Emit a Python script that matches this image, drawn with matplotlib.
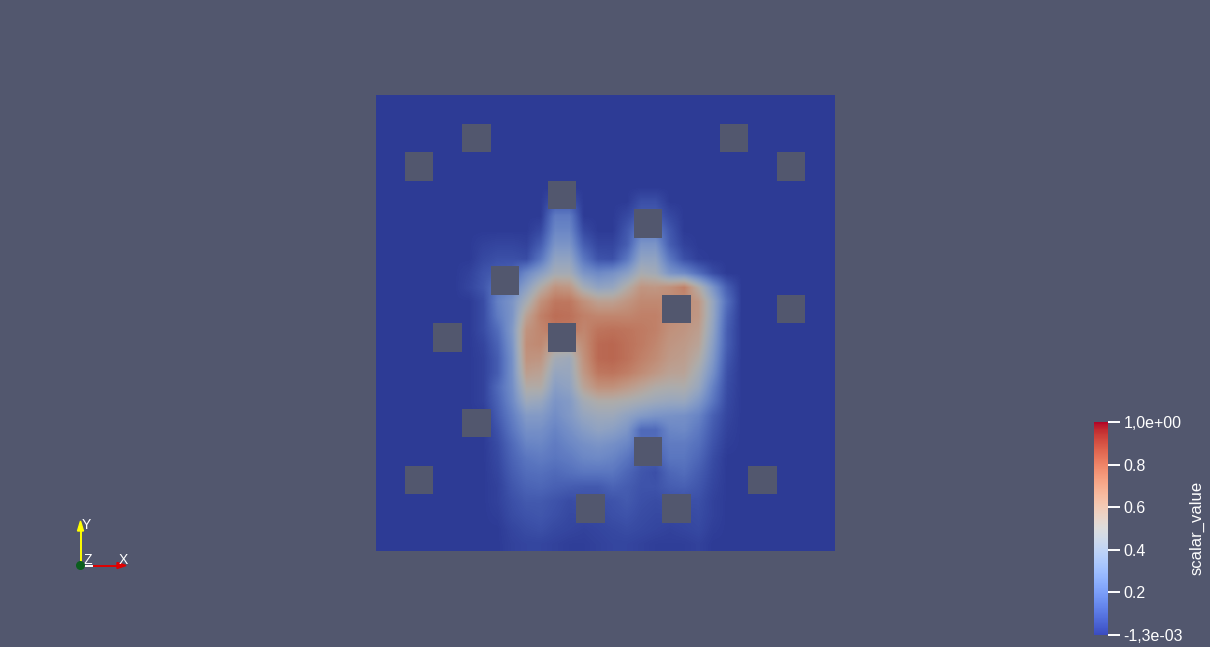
"""Scalar field on a 16x16 grid with square holes, ParaView-like render."""
import numpy as np
import matplotlib
matplotlib.use("Agg")
import matplotlib.pyplot as plt
from matplotlib.colors import ListedColormap, Normalize
from matplotlib.patches import Rectangle, Circle, Polygon
from matplotlib.cm import ScalarMappable

# ---- data -----------------------------------------------------------------
GRID_N = 16                      # cells per side
FIELD_RES = 32                   # samples per side (half-cell)
ROW0, COL0 = 6, 6                # first sampled row / column with nonzero values
# samples for rows 6..31, columns 6..25 (everything else is 0)
field_rows = [
    [0, 0, 0, 0, 0, 0, 0, 0, 0, 0, 0, 0, 0, 0, 0, 0, 0, 0, 0, 0],
    [0, 0, 0, 0, 0, 0, .08, .08, 0, 0, 0, 0, .06, .06, 0, 0, 0, 0, 0, 0],
    [0, 0, 0, 0, 0, 0, .2, .2, 0, 0, 0, .04, .1, .1, .04, 0, 0, 0, 0, 0],
    [0, 0, 0, 0, 0, .04, .24, .24, .04, 0, 0, .08, .2, .2, .08, 0, 0, 0, 0, 0],
    [0, .02, .03, .03, .02, .1, .3, .3, .1, .03, .03, .1, .3, .3, .1, .02, 0, 0, 0, 0],
    [0, .04, .06, .06, .05, .18, .38, .38, .18, .07, .06, .18, .38, .38, .18, .06, .01, 0, 0, 0],
    [.02, .07, .1, .12, .25, .35, .46, .46, .3, .25, .28, .35, .48, .45, .3, .25, .15, .05, 0, 0],
    [.03, .08, .18, .22, .36, .52, .65, .63, .46, .38, .4, .52, .64, .63, .66, .72, .52, .3, .1, 0],
    [0, .05, .22, .3, .47, .66, .75, .75, .66, .59, .59, .64, .69, .69, .68, .68, .63, .4, .15, 0],
    [0, .05, .2, .3, .58, .72, .78, .77, .72, .7, .7, .7, .72, .72, .68, .66, .63, .4, .12, 0],
    [0, .05, .15, .32, .65, .7, .75, .75, .7, .76, .77, .76, .74, .72, .66, .64, .6, .38, .1, 0],
    [0, .03, .12, .3, .67, .69, .58, .58, .68, .79, .8, .77, .74, .7, .64, .62, .57, .35, .1, 0],
    [0, .02, .1, .28, .65, .64, .46, .43, .66, .79, .8, .77, .72, .68, .62, .6, .52, .32, .08, 0],
    [0, .02, .1, .28, .6, .58, .4, .41, .63, .75, .76, .73, .68, .63, .58, .57, .46, .28, .06, 0],
    [0, .02, .14, .27, .52, .52, .35, .38, .57, .66, .66, .62, .57, .52, .5, .5, .41, .22, .05, 0],
    [0, .02, .12, .25, .43, .41, .3, .33, .46, .51, .51, .49, .46, .43, .41, .41, .32, .18, .04, 0],
    [0, 0, .1, .21, .33, .33, .27, .32, .4, .43, .43, .38, .33, .3, .29, .28, .23, .11, .03, 0],
    [0, 0, .07, .18, .28, .28, .23, .28, .34, .38, .36, .31, .14, .14, .24, .25, .19, .09, .02, 0],
    [0, 0, .05, .14, .23, .24, .2, .24, .28, .3, .28, .24, .15, .15, .2, .2, .16, .07, .01, 0],
    [0, 0, .04, .12, .18, .2, .18, .2, .24, .25, .23, .18, .1, .1, .18, .18, .13, .05, 0, 0],
    [0, 0, .03, .1, .15, .16, .14, .16, .18, .18, .18, .13, .08, .06, .13, .15, .1, .04, 0, 0],
    [0, 0, .02, .08, .12, .13, .11, .1, .09, .09, .12, .1, .07, .07, .1, .11, .08, .03, 0, 0],
    [0, 0, .02, .06, .09, .09, .07, .05, .06, .06, .07, .09, .06, .05, .06, .06, .06, .02, 0, 0],
    [0, 0, .01, .05, .07, .08, .06, .04, .04, .04, .06, .07, .05, .04, .04, .04, .05, .02, 0, 0],
    [0, 0, 0, .03, .05, .06, .04, .03, .02, .03, .04, .05, .04, .03, .02, .03, .04, .01, 0, 0],
    [0, 0, 0, .02, .03, .03, .02, .01, .01, .02, .03, .03, .02, .01, .01, .01, .02, 0, 0, 0],
]
# square holes (column, row from top)
hole_cols = [3, 1, 12, 14, 6, 9, 4, 10, 14, 2, 6, 3, 9, 1, 13, 7, 10]
hole_rows = [1, 2, 1, 2, 3, 4, 6, 7, 7, 8, 8, 11, 12, 13, 13, 14, 14]

vmin, vmax = -0.0013, 1.0
cbar_ticks = [1.0, 0.8, 0.6, 0.4, 0.2, -0.0013]
cbar_labels = ["1,0e+00", "0.8", "0.6", "0.4", "0.2", "-1,3e-03"]
cbar_title = "scalar_value"

# ---- style ----------------------------------------------------------------
BG = "#52576e"
W, H = 1210, 647
plt.rcParams["font.family"] = ["Liberation Sans", "DejaVu Sans"]

field = np.zeros((FIELD_RES, FIELD_RES))
rows = np.array(field_rows, dtype=float)
field[ROW0:ROW0 + rows.shape[0], COL0:COL0 + rows.shape[1]] = rows

base = plt.get_cmap("coolwarm")
shaded = ListedColormap(base(np.linspace(0, 1, 256))[:, :3] * 0.78)
norm = Normalize(vmin, vmax)

fig = plt.figure(figsize=(W / 100, H / 100), dpi=100, facecolor=BG)

# field
ax = fig.add_axes([376 / W, (H - 551) / H, 458 / W, 456 / H])
ax.imshow(field, extent=(0, GRID_N, GRID_N, 0), cmap=shaded, norm=norm,
          interpolation="bilinear", aspect="auto")
for c, r in zip(hole_cols, hole_rows):
    ax.add_patch(Rectangle((c, r), 1, 1, facecolor=BG, edgecolor="none"))
ax.set_xlim(0, GRID_N)
ax.set_ylim(GRID_N, 0)
ax.axis("off")

# colour bar
cax = fig.add_axes([1094 / W, (H - 635) / H, 14 / W, 213 / H])
cb = fig.colorbar(ScalarMappable(norm=norm, cmap=base), cax=cax)
cb.outline.set_visible(False)
cb.set_ticks(cbar_ticks, labels=cbar_labels)
cax.tick_params(colors="white", labelcolor="white", direction="out",
                length=8.5, width=1.4, pad=2.5, labelsize=11.5)
cax.yaxis.set_tick_params(which="minor", length=0)
fig.text(1197 / W, 1 - 528 / H, cbar_title, rotation=90, color="white",
         fontsize=12, ha="center", va="center")

# orientation triad (pixel coordinates)
ov = fig.add_axes([0, 0, 1, 1], facecolor="none")
ov.set_xlim(0, W)
ov.set_ylim(H, 0)
ov.axis("off")
ox, oy = 80.5, 565.5
ov.plot([ox, ox], [oy, 530], color="#ffff00", lw=1.4)
ov.add_patch(Polygon([[ox - 3, 531], [ox + 3, 531], [ox, 521]], color="#ffff00"))
ov.plot([ox, 118], [oy, oy], color="#e00000", lw=1.4)
ov.add_patch(Polygon([[117, oy - 3], [117, oy + 3], [126, oy]], color="#e00000"))
ov.plot([84, 92], [oy, oy], color="white", lw=1.4)
ov.add_patch(Circle((ox, oy), 3.8, color="#0b5e1e", zorder=5))
ov.text(82, 525, "Y", color="white", fontsize=10, ha="left", va="center")
ov.text(83, 559.5, "Z", color="white", fontsize=10, ha="left", va="center")
ov.text(119, 560.5, "X", color="white", fontsize=10, ha="left", va="center")

fig.savefig("out.png", dpi=100, facecolor=BG)
